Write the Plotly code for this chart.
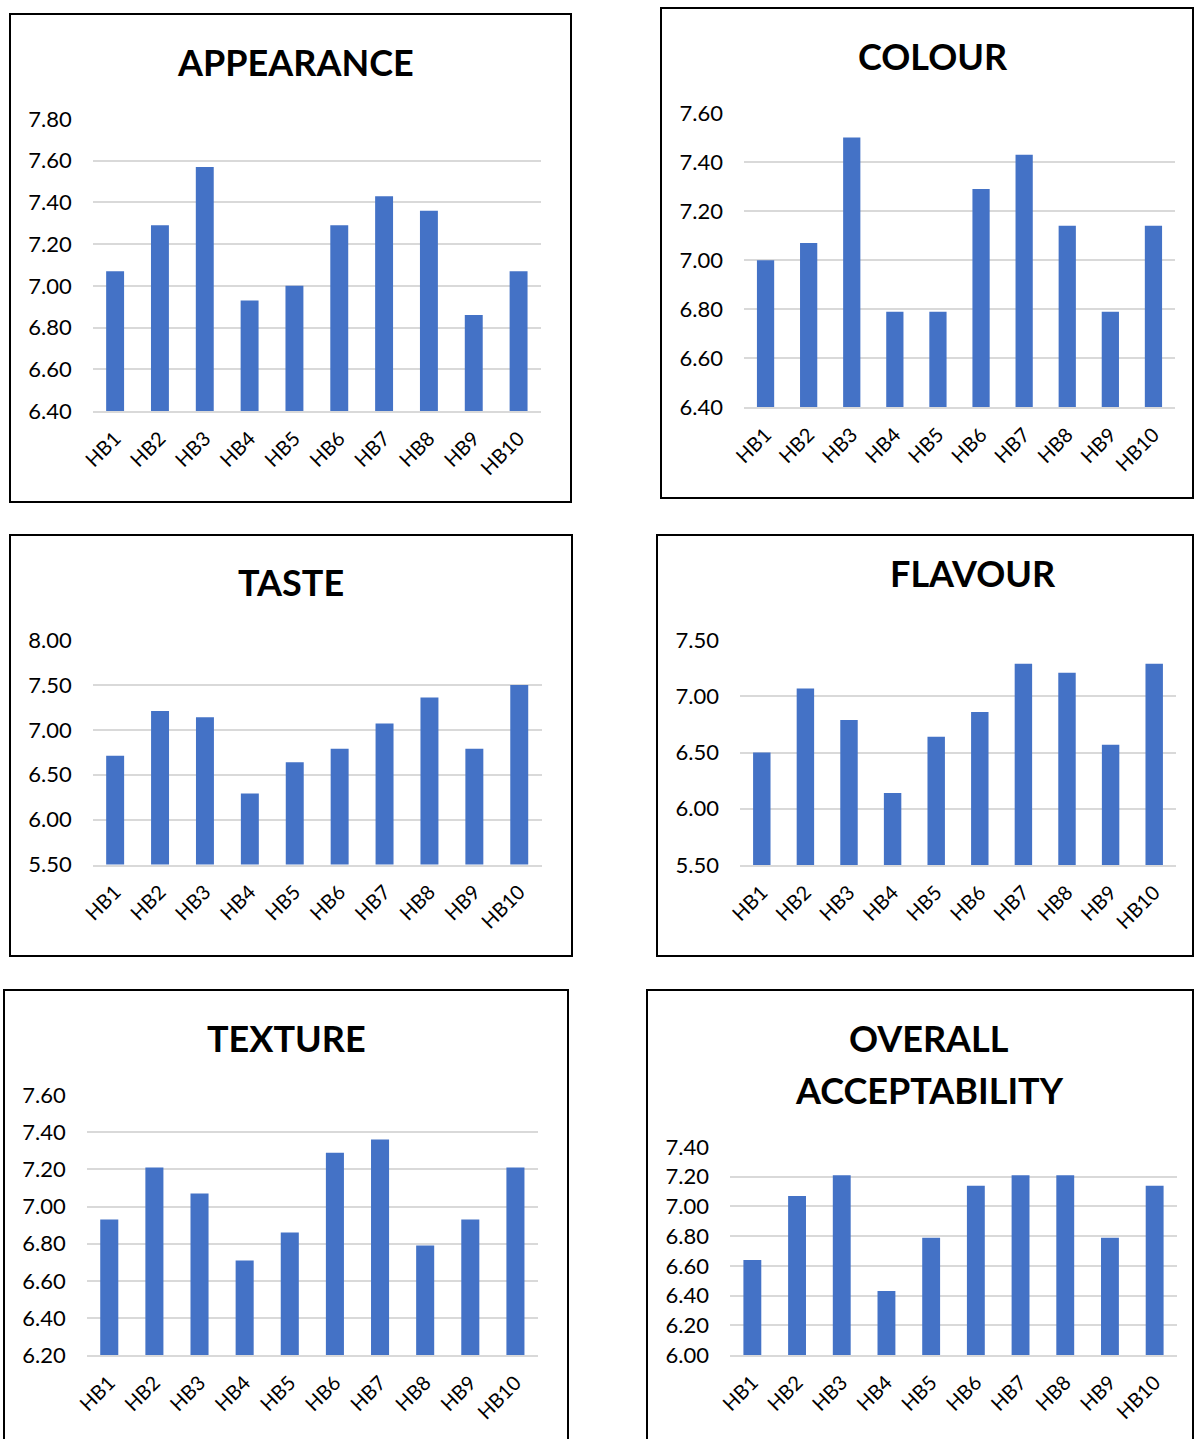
import plotly.graph_objects as go

categories = ["HB1", "HB2", "HB3", "HB4", "HB5", "HB6", "HB7", "HB8", "HB9", "HB10"]

appearance = [7.07, 7.29, 7.57, 6.93, 7.00, 7.29, 7.43, 7.36, 6.86, 7.07]
colour = [7.00, 7.07, 7.50, 6.79, 6.79, 7.29, 7.43, 7.14, 6.79, 7.14]
taste = [6.71, 7.21, 7.14, 6.29, 6.64, 6.79, 7.07, 7.36, 6.79, 7.50]
flavour = [6.50, 7.07, 6.79, 6.14, 6.64, 6.86, 7.29, 7.21, 6.57, 7.29]
texture = [6.93, 7.21, 7.07, 6.71, 6.86, 7.29, 7.36, 6.79, 6.93, 7.21]
overall = [6.64, 7.07, 7.21, 6.43, 6.79, 7.14, 7.21, 7.21, 6.79, 7.14]

titles = ["APPEARANCE", "COLOUR", "TASTE", "FLAVOUR", "TEXTURE", ["OVERALL", "ACCEPTABILITY"]]
series = [appearance, colour, taste, flavour, texture, overall]
y_ranges = [(6.4, 7.8), (6.4, 7.6), (5.5, 8.0), (5.5, 7.5), (6.2, 7.6), (6.0, 7.4)]
y_dticks = [0.2, 0.2, 0.5, 0.5, 0.2, 0.2]

W, H = 1195, 1439
# plot areas in pixels: x0, x1, ytop, ybottom
plot_px = [
    (92.7, 541, 119, 411),
    (744, 1175, 113, 407.3),
    (92.7, 541.7, 640, 864.5),
    (740, 1176, 640, 865),
    (86.7, 538, 1095, 1355.3),
    (730, 1177, 1147, 1355),
]
# panel frames: x0, x1, y0, y1
frame_px = [
    (10, 571, 14, 502),
    (661, 1193, 8, 498),
    (10, 572, 535, 956),
    (657, 1193, 535, 956),
    (4, 568, 990, 1450),
    (647, 1193, 990, 1450),
]
# title centres
title_px = [
    [(295, 62)],
    [(933, 56)],
    [(291, 582)],
    [(973, 573)],
    [(286, 1038)],
    [(929, 1038), (929, 1090)],
]

FONT = "Lato, 'Open Sans', sans-serif"
BAR = "#4472C6"
GRID = "#D9D9D9"

fig = go.Figure()
layout = {}
shapes = []
annotations = []

for i in range(6):
    n = "" if i == 0 else str(i + 1)
    fig.add_trace(go.Bar(
        x=categories, y=series[i],
        xaxis="x" + n, yaxis="y" + n,
        marker=dict(color=BAR, line=dict(width=0)),
        width=0.4, showlegend=False,
    ))
    x0, x1, yt, yb = plot_px[i]
    layout["xaxis" + n] = dict(
        domain=[x0 / W, x1 / W], anchor="y" + n, type="category",
        tickangle=-45, tickfont=dict(family=FONT, size=20, color="#000"),
        showgrid=False, showline=True, linecolor=GRID, linewidth=2,
        ticks="", ticklabelstandoff=6, automargin=False,
    )
    layout["yaxis" + n] = dict(
        domain=[1 - yb / H, 1 - yt / H], anchor="x" + n,
        range=list(y_ranges[i]), dtick=y_dticks[i], tick0=0, tickformat=".2f",
        tickfont=dict(family=FONT, size=22, color="#000"),
        showgrid=True, gridcolor=GRID, gridwidth=2,
        zeroline=False, showline=False, ticks="", ticklabelstandoff=20,
        automargin=False,
    )
    fx0, fx1, fy0, fy1 = frame_px[i]
    shapes.append(dict(type="rect", xref="paper", yref="paper",
                       x0=fx0 / W, x1=fx1 / W, y0=1 - fy1 / H, y1=1 - fy0 / H,
                       line=dict(color="#000", width=2), fillcolor="rgba(0,0,0,0)"))
    t = titles[i] if isinstance(titles[i], list) else [titles[i]]
    for txt, (cx, cy) in zip(t, title_px[i]):
        annotations.append(dict(text="<b>" + txt + "</b>", x=cx / W, y=1 - cy / H,
                                xref="paper", yref="paper", xanchor="center", yanchor="middle",
                                showarrow=False,
                                font=dict(family=FONT, size=36, color="#000")))

fig.update_layout(
    width=W, height=H, margin=dict(l=0, r=0, t=0, b=0, autoexpand=False),
    paper_bgcolor="white", plot_bgcolor="white",
    shapes=shapes, annotations=annotations, bargap=0.6,
    **layout,
)

fig.write_html("out.html")
